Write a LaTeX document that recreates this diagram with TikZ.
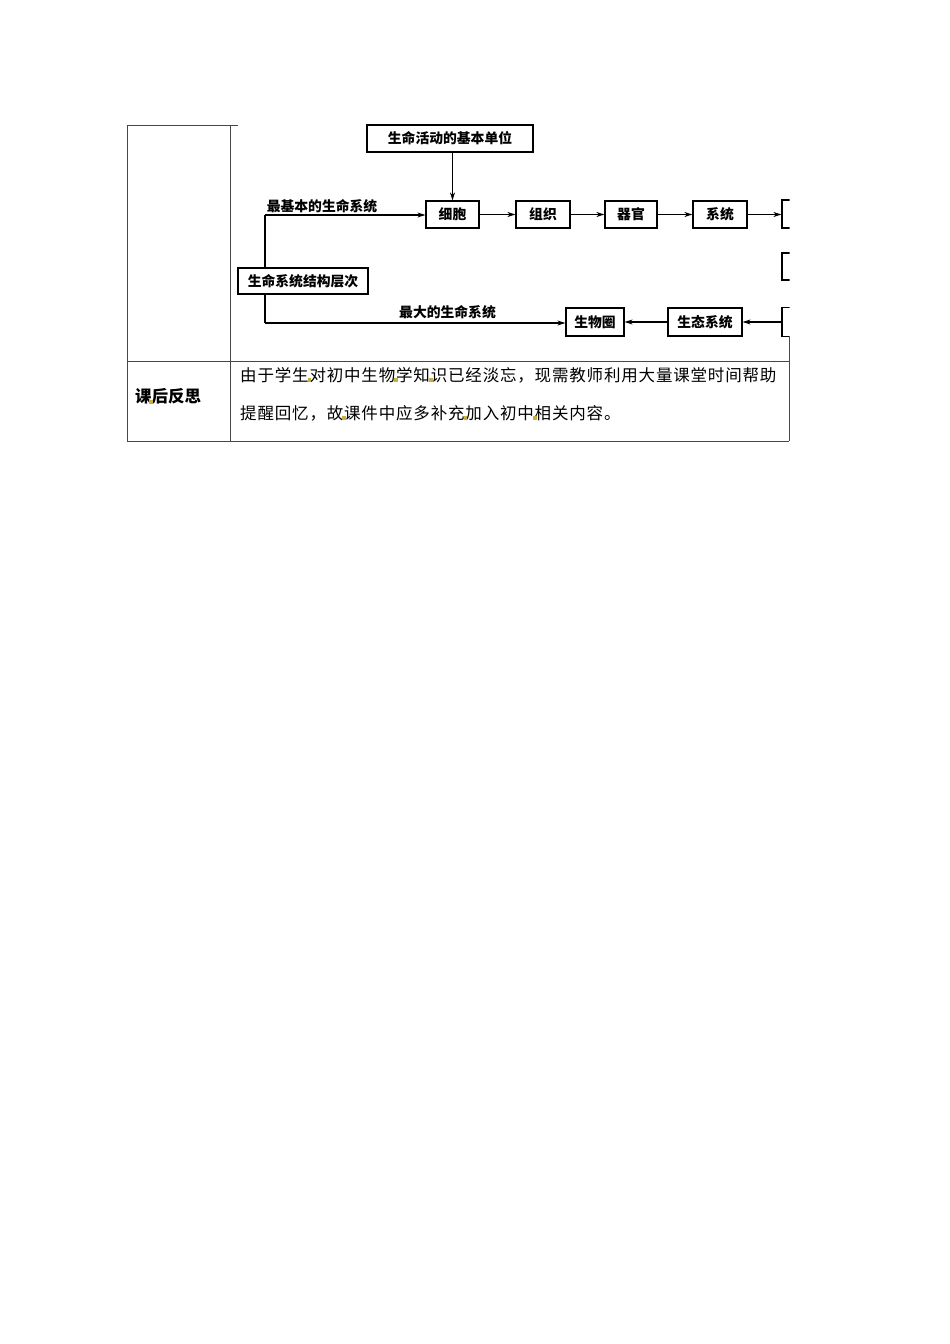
\documentclass[tikz,border=0pt]{standalone}
\usepackage{fontspec}
\newfontfamily\cjk{Noto Sans CJK SC}
\usetikzlibrary{arrows.meta}
\definecolor{olivemark}{RGB}{196,176,70}
\begin{document}
\begin{tikzpicture}[x=1pt,y=-1pt,
  tbl/.style={line width=1pt,draw=black!72},
  box/.style={draw=black,line width=1.2pt,inner sep=0pt,minimum height=27pt,
    font=\cjk\bfseries\fontsize{13.8}{14}\selectfont},
  lbl/.style={inner sep=0pt,font=\cjk\bfseries\fontsize{13.8}{14}\selectfont},
  conn/.style={line width=1.1pt,-{Stealth[length=8pt,width=5pt]}},
  body/.style={inner sep=0pt,anchor=west,font=\cjk\fontsize{16.5}{17}\selectfont\addfontfeatures{LetterSpace=5}},
  dotmark/.style={fill=olivemark,draw=none}
]
\useasboundingbox (0,0) rectangle (950,1344);
\fill[white] (0,0) rectangle (950,1344);

% table
\draw[tbl] (127,125) -- (238,125);
\draw[tbl] (127,125) -- (127,441);
\draw[tbl] (230,125) -- (230,441);
\draw[tbl] (127,361) -- (789,361);
\draw[tbl] (127,441) -- (789,441);
\draw[tbl] (789,337) -- (789,441);

% diagram
\begin{scope}
\clip (231,118) rectangle (789.5,345);
\node[box,minimum width=166pt] (unit) at (450,138.5) {生命活动的基本单位};
\node[box,minimum width=53pt] (cell) at (452.5,214.5) {细胞};
\node[box,minimum width=54pt] (tissue) at (543,214.5) {组织};
\node[box,minimum width=52pt] (organ) at (631,214.5) {器官};
\node[box,minimum width=54pt] (sys) at (720,214.5) {系统};
\node[box,minimum width=60pt,minimum height=28pt] (indiv) at (812,214) {};
\node[box,minimum width=60pt,minimum height=27pt] (popu) at (812,266.5) {};
\node[box,minimum width=60pt,minimum height=29pt] (comm) at (812,322) {};
\node[box,minimum width=74pt,minimum height=28pt] (eco) at (705,322) {生态系统};
\node[box,minimum width=58pt,minimum height=28pt] (bio) at (595,322) {生物圈};
\node[box,minimum width=130pt,minimum height=26pt] (level) at (303,281) {生命系统结构层次};

\node[lbl] (l1) at (322,206) {最基本的生命系统};
\node[lbl] (l2) at (447.5,312) {最大的生命系统};

\coordinate (c1) at (265,215);
\coordinate (c2) at (265,323);

\draw[conn] (unit.south -| cell.north) -- (cell.north);
\draw[line width=1.1pt] (level.north -| c1) -- (c1);
\draw[conn] (c1) -- (cell.west |- c1);
\draw[line width=1.1pt] (level.south -| c2) -- (c2);
\draw[conn] (c2) -- (bio.west |- c2);
\draw[conn] (cell) -- (tissue);
\draw[conn] (tissue) -- (organ);
\draw[conn] (organ) -- (sys);
\draw[conn] (sys) -- (indiv.west |- sys);
\draw[conn] (comm.west |- eco) -- (eco);
\draw[conn] (eco) -- (bio);
\end{scope}

% second row
\node[inner sep=0pt,anchor=west,font=\cjk\bfseries\fontsize{16.5}{17}\selectfont] (title) at (135,396) {课后反思};
\node[body] (t1) at (240,375) {由于学生对初中生物学知识已经淡忘，现需教师利用大量课堂时间帮助};
\node[body] (t2) at (240,413) {提醒回忆，故课件中应多补充加入初中相关内容。};

% small marks
\foreach \x/\y in {151/402, 309.5/380, 396/380, 431/380, 344/418, 465.5/418, 535/418}
  \fill[dotmark] (\x-1.6,\y-1.6) rectangle (\x+1.6,\y+1.6);
\end{tikzpicture}
\end{document}
